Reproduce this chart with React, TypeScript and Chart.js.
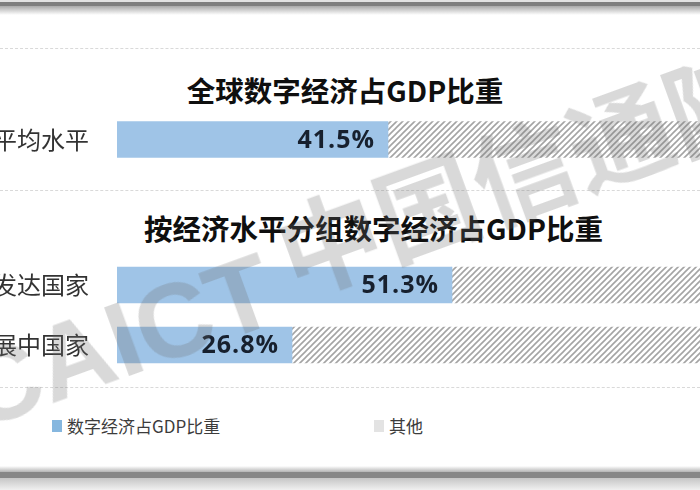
import React, { useEffect, useRef } from "react";
import { Chart, registerables } from "chart.js";

Chart.register(...registerables);

// ---- data ----
const seriesNames = ["数字经济占GDP比重", "其他"];
const titles = ["全球数字经济占GDP比重", "按经济水平分组数字经济占GDP比重"];
const globalCategories = ["全球平均水平"];
const globalDigital = [41.5];
const globalOther = [58.5];
const groupCategories = ["发达国家", "发展中国家"];
const groupDigital = [51.3, 26.8];
const groupOther = [48.7, 73.2];
const watermarkLatin = "CAICT";
const watermarkCJK = "中国信通院";

const BLUE = "#9fc4e7";
const CJK = "'Noto Sans CJK SC', 'Noto Sans', sans-serif";

function makeHatch(ctx: CanvasRenderingContext2D) {
  const s = 6;
  const c = document.createElement("canvas");
  c.width = s;
  c.height = s;
  const g = c.getContext("2d")!;
  g.fillStyle = "#ffffff";
  g.fillRect(0, 0, s, s);
  g.strokeStyle = "#a4a4a4";
  g.lineWidth = 1.6;
  g.beginPath();
  g.moveTo(0, s);
  g.lineTo(s, 0);
  g.moveTo(-s / 2, s / 2);
  g.lineTo(s / 2, -s / 2);
  g.moveTo(s / 2, s * 1.5);
  g.lineTo(s * 1.5, s / 2);
  g.stroke();
  return ctx.createPattern(c, "repeat");
}

const valueLabels = {
  id: "valueLabels",
  afterDatasetsDraw(chart: any) {
    const meta = chart.getDatasetMeta(0);
    const data = chart.data.datasets[0].data as number[];
    const ctx = chart.ctx as CanvasRenderingContext2D;
    ctx.save();
    ctx.font = "bold 25px 'Open Sans', 'Noto Sans', sans-serif";
    ctx.fillStyle = "#17202e";
    ctx.textAlign = "right";
    ctx.textBaseline = "middle";
    try {
      (ctx as any).letterSpacing = "1px";
    } catch (e) {}
    meta.data.forEach((el: any, i: number) => {
      ctx.fillText(data[i].toFixed(1) + "%", el.x - 13, el.y + 1);
    });
    ctx.restore();
  },
};

function makeConfig(
  ctx: CanvasRenderingContext2D,
  labels: string[],
  digital: number[],
  other: number[]
): any {
  return {
    type: "bar",
    data: {
      labels,
      datasets: [
        {
          label: seriesNames[0],
          data: digital,
          backgroundColor: BLUE,
          borderWidth: 0,
          barThickness: 36,
        },
        {
          label: seriesNames[1],
          data: other,
          backgroundColor: makeHatch(ctx),
          borderWidth: 0,
          barThickness: 36,
        },
      ],
    },
    options: {
      indexAxis: "y",
      responsive: false,
      maintainAspectRatio: false,
      animation: false,
      layout: { padding: { left: 0, right: 2, top: 0, bottom: 0 } },
      plugins: {
        legend: { display: false },
        tooltip: { enabled: false },
        title: { display: false },
      },
      scales: {
        x: { stacked: true, min: 0, max: 100, display: false },
        y: {
          stacked: true,
          grid: { display: false, drawTicks: false },
          border: { display: false },
          ticks: {
            padding: 28,
            color: "#333333",
            font: { family: CJK, size: 24 },
          },
          afterFit: (s: any) => {
            s.width = 177;
            s.paddingTop = 0;
            s.paddingBottom = 0;
          },
        },
      },
    },
    plugins: [valueLabels],
  };
}

const dashed = (top: number): React.CSSProperties => ({
  position: "absolute",
  left: 0,
  top,
  width: 700,
  height: 0,
  borderTop: "1px dashed #d9d9d9",
});

export default function App() {
  const ref1 = useRef<HTMLCanvasElement>(null);
  const ref2 = useRef<HTMLCanvasElement>(null);

  useEffect(() => {
    const c1 = ref1.current!;
    const c2 = ref2.current!;
    const ctx1 = c1.getContext("2d")!;
    const ctx2 = c2.getContext("2d")!;
    const ch1 = new Chart(c1, makeConfig(ctx1, globalCategories, globalDigital, globalOther));
    const ch2 = new Chart(c2, makeConfig(ctx2, groupCategories, groupDigital, groupOther));
    return () => {
      ch1.destroy();
      ch2.destroy();
    };
  }, []);

  const canvasStyle = (top: number, h: number): React.CSSProperties => ({
    position: "absolute",
    left: -60,
    top,
    width: 832,
    height: h,
    display: "block",
  });

  const wm: React.CSSProperties = {
    position: "absolute",
    lineHeight: "100px",
    fontSize: 100,
    fontWeight: 700,
    color: "rgba(110,110,110,0.26)",
    whiteSpace: "nowrap",
    transformOrigin: "0 50%",
    transform: "rotate(-20deg)",
    pointerEvents: "none",
  };

  return (
    <div
      style={{
        position: "fixed",
        left: 0,
        top: 0,
        width: 700,
        height: 490,
        overflow: "hidden",
        background: "#ffffff",
        fontFamily: CJK,
      }}
    >
      {/* frame */}
      <div style={{ position: "absolute", left: 0, top: 0, width: 700, height: 2, background: "#e2e2e2" }} />
      <div style={{ position: "absolute", left: 0, top: 2, width: 700, height: 4, background: "#7e7e7e" }} />
      <div
        style={{
          position: "absolute",
          left: 0,
          top: 6,
          width: 700,
          height: 9,
          background: "linear-gradient(#a9a9a9, #ffffff)",
        }}
      />
      <div
        style={{
          position: "absolute",
          left: 0,
          top: 466,
          width: 700,
          height: 6,
          background: "linear-gradient(#ffffff, #b4b4b4)",
        }}
      />
      <div style={{ position: "absolute", left: 0, top: 472, width: 700, height: 6, background: "#878787" }} />
      <div
        style={{
          position: "absolute",
          left: 0,
          top: 478,
          width: 700,
          height: 12,
          background: "linear-gradient(#c6c6c6, #f0f0f0)",
        }}
      />

      <div style={dashed(48)} />
      <div style={dashed(190)} />
      <div style={dashed(387)} />

      {/* titles */}
      <div
        style={{
          position: "absolute",
          left: 0,
          top: 71,
          width: 690,
          lineHeight: "38px",
          textAlign: "center",
          fontWeight: 700,
          fontSize: 28.5,
          color: "#0f0f0f",
          whiteSpace: "nowrap",
        }}
      >
        {titles[0]}
      </div>
      <div
        style={{
          position: "absolute",
          left: 0,
          top: 209,
          width: 747,
          lineHeight: "38px",
          textAlign: "center",
          fontWeight: 700,
          fontSize: 28.5,
          color: "#0f0f0f",
          whiteSpace: "nowrap",
        }}
      >
        {titles[1]}
      </div>

      <canvas ref={ref1} width={832} height={59} style={canvasStyle(110, 59)} />
      <canvas ref={ref2} width={832} height={120} style={canvasStyle(255, 120)} />

      {/* legend */}
      <div style={{ position: "absolute", left: 52, top: 420, width: 10, height: 12, background: "#86b7df" }} />
      <div
        style={{
          position: "absolute",
          left: 67,
          top: 414,
          lineHeight: "24px",
          fontSize: 17,
          color: "#3c3c3c",
          whiteSpace: "nowrap",
        }}
      >
        {seriesNames[0]}
      </div>
      <div style={{ position: "absolute", left: 374, top: 420, width: 10, height: 12, background: "#e3e3e3" }} />
      <div
        style={{
          position: "absolute",
          left: 389,
          top: 414,
          lineHeight: "24px",
          fontSize: 17,
          color: "#3c3c3c",
          whiteSpace: "nowrap",
        }}
      >
        {seriesNames[1]}
      </div>

      {/* watermark */}
      <div
        style={{
          ...wm,
          left: -34,
          top: 346,
          fontSize: 106,
          fontFamily: "'Liberation Sans', sans-serif",
        }}
      >
        {watermarkLatin}
      </div>
      <div
        style={{
          ...wm,
          left: 280,
          top: 206,
          fontSize: 103,
          fontFamily: CJK,
        }}
      >
        {watermarkCJK}
      </div>
    </div>
  );
}
